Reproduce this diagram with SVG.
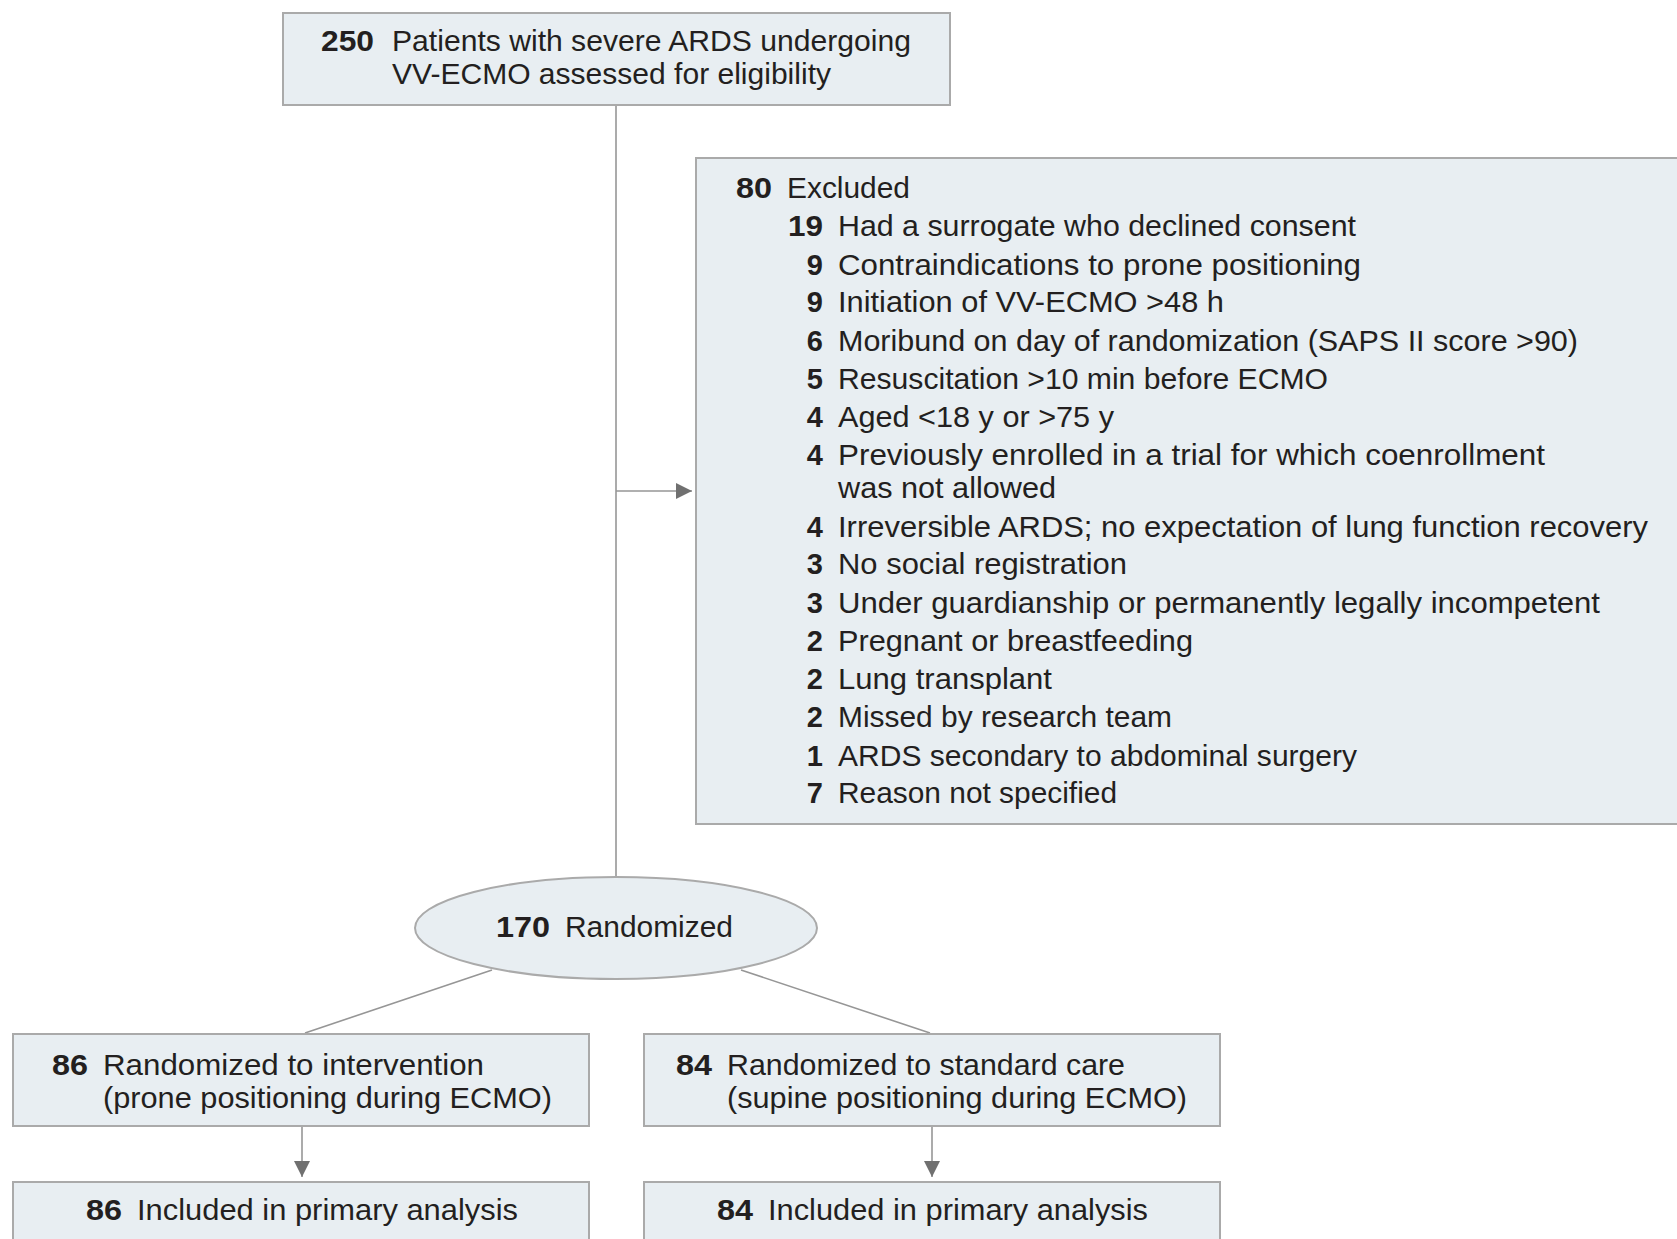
<svg xmlns="http://www.w3.org/2000/svg" width="1677" height="1239" viewBox="0 0 1677 1239">
  <style>
    .box { fill: #e8eef2; stroke: #aaaaaa; stroke-width: 2; }
    .edge { fill: none; stroke: #969696; stroke-width: 1.6; }
    text { font-family: "Liberation Sans", Arial, sans-serif; font-size: 29px; fill: #231f20; }
    .num { font-weight: bold; text-anchor: end; }
  </style>
  <defs>
    <marker id="arrow" viewBox="0 0 16 16" refX="16" refY="8" markerWidth="16" markerHeight="16" markerUnits="userSpaceOnUse" orient="auto">
      <path d="M0,0 L16,8 L0,16 Z" fill="#707070"/>
    </marker>
  </defs>
  <rect width="1677" height="1239" fill="#ffffff"/>

  <!-- connectors -->
  <g id="connectors">
    <line class="edge" x1="616" y1="105" x2="616" y2="877"/>
    <line class="edge" x1="616" y1="491" x2="692" y2="491" marker-end="url(#arrow)"/>
    <line class="edge" x1="492" y1="970" x2="305" y2="1033"/>
    <line class="edge" x1="741" y1="970" x2="930" y2="1033"/>
    <line class="edge" x1="302" y1="1127" x2="302" y2="1177" marker-end="url(#arrow)"/>
    <line class="edge" x1="932" y1="1127" x2="932" y2="1177" marker-end="url(#arrow)"/>
  </g>

  <!-- assessed for eligibility -->
  <g id="assessed">
    <rect class="box" x="283" y="13" width="667" height="92"/>
    <text class="num" x="374" y="51" textLength="53" lengthAdjust="spacingAndGlyphs">250</text>
    <text x="392" y="51" textLength="519" lengthAdjust="spacingAndGlyphs">Patients with severe ARDS undergoing</text>
    <text x="392" y="84" textLength="439" lengthAdjust="spacingAndGlyphs">VV-ECMO assessed for eligibility</text>
  </g>

  <!-- exclusions -->
  <g id="excluded">
    <rect class="box" x="696" y="158" width="1000" height="666"/>
    <text class="num" x="772" y="198" textLength="36" lengthAdjust="spacingAndGlyphs">80</text>
    <text x="787" y="198" textLength="123" lengthAdjust="spacingAndGlyphs">Excluded</text>
    <text class="num" x="823" y="236" textLength="35" lengthAdjust="spacingAndGlyphs">19</text>
    <text x="838" y="236" textLength="518" lengthAdjust="spacingAndGlyphs">Had a surrogate who declined consent</text>
    <text class="num" x="823" y="275">9</text>
    <text x="838" y="275" textLength="523" lengthAdjust="spacingAndGlyphs">Contraindications to prone positioning</text>
    <text class="num" x="823" y="312">9</text>
    <text x="838" y="312" textLength="386" lengthAdjust="spacingAndGlyphs">Initiation of VV-ECMO &gt;48 h</text>
    <text class="num" x="823" y="351">6</text>
    <text x="838" y="351" textLength="740" lengthAdjust="spacingAndGlyphs">Moribund on day of randomization (SAPS II score &gt;90)</text>
    <text class="num" x="823" y="389">5</text>
    <text x="838" y="389" textLength="490" lengthAdjust="spacingAndGlyphs">Resuscitation &gt;10 min before ECMO</text>
    <text class="num" x="823" y="427">4</text>
    <text x="838" y="427" textLength="276" lengthAdjust="spacingAndGlyphs">Aged &lt;18 y or &gt;75 y</text>
    <text class="num" x="823" y="465">4</text>
    <text x="838" y="465" textLength="707" lengthAdjust="spacingAndGlyphs">Previously enrolled in a trial for which coenrollment</text>
    <text x="838" y="498" textLength="218" lengthAdjust="spacingAndGlyphs">was not allowed</text>
    <text class="num" x="823" y="537">4</text>
    <text x="838" y="537" textLength="810" lengthAdjust="spacingAndGlyphs">Irreversible ARDS; no expectation of lung function recovery</text>
    <text class="num" x="823" y="574">3</text>
    <text x="838" y="574" textLength="289" lengthAdjust="spacingAndGlyphs">No social registration</text>
    <text class="num" x="823" y="613">3</text>
    <text x="838" y="613" textLength="762" lengthAdjust="spacingAndGlyphs">Under guardianship or permanently legally incompetent</text>
    <text class="num" x="823" y="651">2</text>
    <text x="838" y="651" textLength="355" lengthAdjust="spacingAndGlyphs">Pregnant or breastfeeding</text>
    <text class="num" x="823" y="689">2</text>
    <text x="838" y="689" textLength="214" lengthAdjust="spacingAndGlyphs">Lung transplant</text>
    <text class="num" x="823" y="727">2</text>
    <text x="838" y="727" textLength="334" lengthAdjust="spacingAndGlyphs">Missed by research team</text>
    <text class="num" x="823" y="766">1</text>
    <text x="838" y="766" textLength="519" lengthAdjust="spacingAndGlyphs">ARDS secondary to abdominal surgery</text>
    <text class="num" x="823" y="803">7</text>
    <text x="838" y="803" textLength="279" lengthAdjust="spacingAndGlyphs">Reason not specified</text>
  </g>

  <!-- randomization -->
  <g id="randomized">
    <ellipse class="box" cx="616" cy="928" rx="201" ry="51"/>
    <text class="num" x="550" y="937" textLength="54" lengthAdjust="spacingAndGlyphs">170</text>
    <text x="565" y="937" textLength="168" lengthAdjust="spacingAndGlyphs">Randomized</text>
  </g>

  <!-- prone group -->
  <g id="intervention">
    <rect class="box" x="13" y="1034" width="576" height="92"/>
    <text class="num" x="88" y="1075" textLength="36" lengthAdjust="spacingAndGlyphs">86</text>
    <text x="103" y="1075" textLength="381" lengthAdjust="spacingAndGlyphs">Randomized to intervention</text>
    <text x="103" y="1108" textLength="449" lengthAdjust="spacingAndGlyphs">(prone positioning during ECMO)</text>
  </g>

  <!-- supine group -->
  <g id="standard-care">
    <rect class="box" x="644" y="1034" width="576" height="92"/>
    <text class="num" x="712" y="1075" textLength="36" lengthAdjust="spacingAndGlyphs">84</text>
    <text x="727" y="1075" textLength="398" lengthAdjust="spacingAndGlyphs">Randomized to standard care</text>
    <text x="727" y="1108" textLength="460" lengthAdjust="spacingAndGlyphs">(supine positioning during ECMO)</text>
  </g>

  <!-- primary analysis -->
  <g id="analysis-intervention">
    <rect class="box" x="13" y="1182" width="576" height="80"/>
    <text class="num" x="122" y="1220" textLength="36" lengthAdjust="spacingAndGlyphs">86</text>
    <text x="137" y="1220" textLength="381" lengthAdjust="spacingAndGlyphs">Included in primary analysis</text>
  </g>
  <g id="analysis-standard-care">
    <rect class="box" x="644" y="1182" width="576" height="80"/>
    <text class="num" x="753" y="1220" textLength="36" lengthAdjust="spacingAndGlyphs">84</text>
    <text x="768" y="1220" textLength="380" lengthAdjust="spacingAndGlyphs">Included in primary analysis</text>
  </g>
</svg>
